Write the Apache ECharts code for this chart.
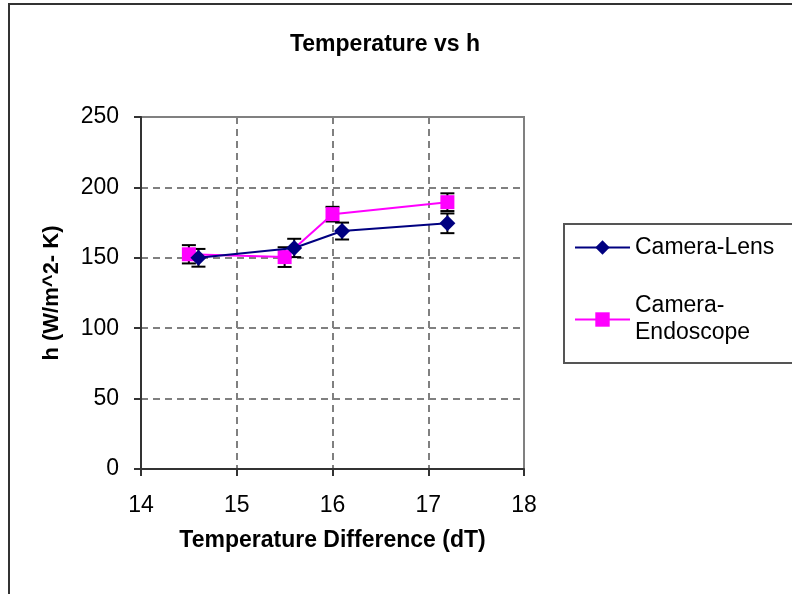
<!DOCTYPE html>
<html><head><meta charset="utf-8">
<script src="https://cdn.jsdelivr.net/npm/echarts@6/dist/echarts.min.js"></script>
<style>html,body{margin:0;padding:0;background:#fff}#c{width:792px;height:594px}</style>
</head><body><div id="c"></div>
<script>
const xTicks = [14, 15, 16, 17, 18];
const yTicks = [0, 50, 100, 150, 200, 250];
const seriesNames = ['Camera-Lens', 'Camera-\nEndoscope'];
const lensX = [14.6, 15.6, 16.1, 17.2];
const lensY = [150, 157, 169, 174.5];
const lensErr = [6.3, 6.5, 6, 7];
const endoX = [14.5, 15.5, 16.0, 17.2];
const endoY = [152.5, 150.5, 181, 189.5];
const endoErr = [6.5, 7, 5.2, 6.3];

const FONT = '"Liberation Sans", Arial, sans-serif';
const lensColor = '#000080';
const endoColor = '#FF00FF';

function pts(xs, ys) { return xs.map((x, i) => [x, ys[i]]); }
function errPts(xs, ys, es) { return xs.map((x, i) => [x, ys[i], es[i]]); }

function errRender(params, api) {
  const x = api.value(0), y = api.value(1), e = api.value(2);
  const top = api.coord([x, y + e]);
  const bot = api.coord([x, y - e]);
  const hw = 7;
  const st = { stroke: '#000', lineWidth: 2 };
  return {
    type: 'group',
    children: [
      { type: 'line', shape: { x1: top[0], y1: top[1], x2: bot[0], y2: bot[1] }, style: st },
      { type: 'line', shape: { x1: top[0] - hw, y1: top[1], x2: top[0] + hw, y2: top[1] }, style: st },
      { type: 'line', shape: { x1: bot[0] - hw, y1: bot[1], x2: bot[0] + hw, y2: bot[1] }, style: st }
    ]
  };
}

const chart = echarts.init(document.getElementById('c'), null, { renderer: 'canvas' });
chart.setOption({
  animation: false,
  backgroundColor: '#fff',
  textStyle: { fontFamily: FONT },
  title: {
    text: 'Temperature vs h',
    left: 380, top: 28, textAlign: 'center',
    textStyle: { fontFamily: FONT, fontWeight: 'bold', fontSize: 23, color: '#000' }
  },
  grid: {
    left: 141, top: 117, right: 268, bottom: 125,
    show: true, borderColor: '#808080', borderWidth: 2, backgroundColor: '#fff'
  },
  legend: [
    {
      data: [seriesNames[0]], left: 574, top: 236, orient: 'vertical',
      itemWidth: 55, itemHeight: 18, itemGap: 5, padding: 0,
      textStyle: { fontFamily: FONT, fontSize: 23, color: '#000' }
    },
    {
      data: [seriesNames[1]], left: 574, top: 279, orient: 'vertical',
      itemWidth: 55, itemHeight: 18, itemGap: 5, padding: 0,
      textStyle: { fontFamily: FONT, fontSize: 23, color: '#000', lineHeight: 27, padding: [27, 0, 0, 0] }
    }
  ],
  graphic: [
    { type: 'rect', shape: { x: 9, y: 4, width: 900, height: 700 }, style: { fill: 'none', stroke: '#333', lineWidth: 2 }, silent: true, z: 100 },
    { type: 'rect', shape: { x: 564, y: 224, width: 300, height: 139 }, style: { fill: 'none', stroke: '#555', lineWidth: 2 }, silent: true, z: 100 }
  ],
  xAxis: {
    type: 'value', min: 14, max: 18, interval: 1,
    name: 'Temperature Difference (dT)', nameLocation: 'middle', nameGap: 60,
    nameTextStyle: { fontFamily: FONT, fontWeight: 'bold', fontSize: 23, color: '#000' },
    axisLine: { show: true, onZero: false, lineStyle: { color: '#333', width: 2 } },
    axisTick: { show: true, inside: false, length: 7, lineStyle: { color: '#333', width: 2 } },
    axisLabel: { margin: 25, fontFamily: FONT, fontSize: 23, color: '#000',
      formatter: v => xTicks.includes(v) ? String(v) : '' },
    splitLine: { show: true, lineStyle: { color: '#808080', width: 2, type: [7, 5] } }
  },
  yAxis: {
    type: 'value', min: 0, max: 250, interval: 50,
    name: 'h (W/m^2- K)', nameLocation: 'middle', nameGap: 78, nameRotate: 90,
    nameTextStyle: { fontFamily: FONT, fontWeight: 'bold', fontSize: 22, color: '#000' },
    axisLine: { show: true, onZero: false, lineStyle: { color: '#333', width: 2 } },
    axisTick: { show: true, inside: false, length: 7, lineStyle: { color: '#333', width: 2 } },
    axisLabel: { margin: 22, fontFamily: FONT, fontSize: 23, color: '#000',
      formatter: v => yTicks.includes(v) ? String(v) : '' },
    splitLine: { show: true, lineStyle: { color: '#808080', width: 2, type: [7, 5] } }
  },
  series: [
    { type: 'custom', name: 'errLens', renderItem: errRender, data: errPts(lensX, lensY, lensErr), z: 2, silent: true },
    { type: 'custom', name: 'errEndo', renderItem: errRender, data: errPts(endoX, endoY, endoErr), z: 2, silent: true },
    {
      type: 'line', name: seriesNames[0], data: pts(lensX, lensY), z: 4,
      symbol: 'diamond', symbolSize: 16, showAllSymbol: true,
      lineStyle: { color: lensColor, width: 2 }, itemStyle: { color: lensColor }
    },
    {
      type: 'line', name: seriesNames[1], data: pts(endoX, endoY), z: 3,
      symbol: 'rect', symbolSize: 14, showAllSymbol: true,
      lineStyle: { color: endoColor, width: 2 }, itemStyle: { color: endoColor }
    }
  ]
});
</script>
</body></html>
